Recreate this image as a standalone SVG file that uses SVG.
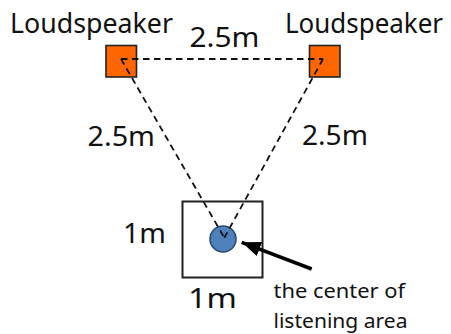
<svg xmlns="http://www.w3.org/2000/svg" width="451" height="334" viewBox="0 0 451 334">
<style>
text{font-family:"Noto Sans","Open Sans","DejaVu Sans",sans-serif;fill:#111}
.lbl{font-size:27px}
.dim{font-size:28px}
.note{font-size:20.5px}
.spk{fill:#FF6600;stroke:#222;stroke-width:1.6}
.dash{fill:none;stroke:#111;stroke-width:1.8;stroke-dasharray:6.5 4.5}
</style>
<defs>
<marker id="ah" markerUnits="userSpaceOnUse" markerWidth="20" markerHeight="18" viewBox="0 0 20 18" refX="19" refY="9" orient="auto">
<path d="M0,1.5 L19,9 L0,16.5 Z" fill="#000"/>
</marker>
</defs>
<rect width="451" height="334" fill="#fff"/>
<g id="speaker-left">
<rect class="spk" x="106" y="45.5" width="30.5" height="31.5"/>
<text class="lbl" x="10" y="33" textLength="163" lengthAdjust="spacingAndGlyphs">Loudspeaker</text>
</g>
<g id="speaker-right">
<rect class="spk" x="309.5" y="45.5" width="30.5" height="31.5"/>
<text class="lbl" x="285" y="33" textLength="158" lengthAdjust="spacingAndGlyphs">Loudspeaker</text>
</g>
<g id="listening-area">
<rect x="182.5" y="201.5" width="80" height="76" fill="#fff" stroke="#222" stroke-width="2"/>
<circle cx="223" cy="239" r="13" fill="#4F81BD" stroke="#2B4A78" stroke-width="1.6"/>
<text class="dim" x="123" y="242.5" textLength="43" lengthAdjust="spacingAndGlyphs">1m</text>
<text class="dim" x="188" y="308" textLength="49" lengthAdjust="spacingAndGlyphs">1m</text>
</g>
<g id="connectors">
<path class="dash" d="M121,59 L323,59"/>
<path class="dash" d="M121,59 L224.3,237.7"/>
<path class="dash" d="M323,59 L224.3,237.7"/>
<line x1="311.7" y1="269" x2="241.7" y2="242.3" stroke="#000" stroke-width="3.5" marker-end="url(#ah)"/>
</g>
<g id="labels">
<text class="dim" x="189.5" y="46.5" textLength="70" lengthAdjust="spacingAndGlyphs">2.5m</text>
<text class="dim" x="87.5" y="146" textLength="67.5" lengthAdjust="spacingAndGlyphs">2.5m</text>
<text class="dim" x="302" y="145" textLength="66" lengthAdjust="spacingAndGlyphs">2.5m</text>
<text class="note" x="273.5" y="298" textLength="131.5" lengthAdjust="spacingAndGlyphs">the center of</text>
<text class="note" x="273.5" y="328" textLength="134" lengthAdjust="spacingAndGlyphs">listening area</text>
</g>
</svg>
